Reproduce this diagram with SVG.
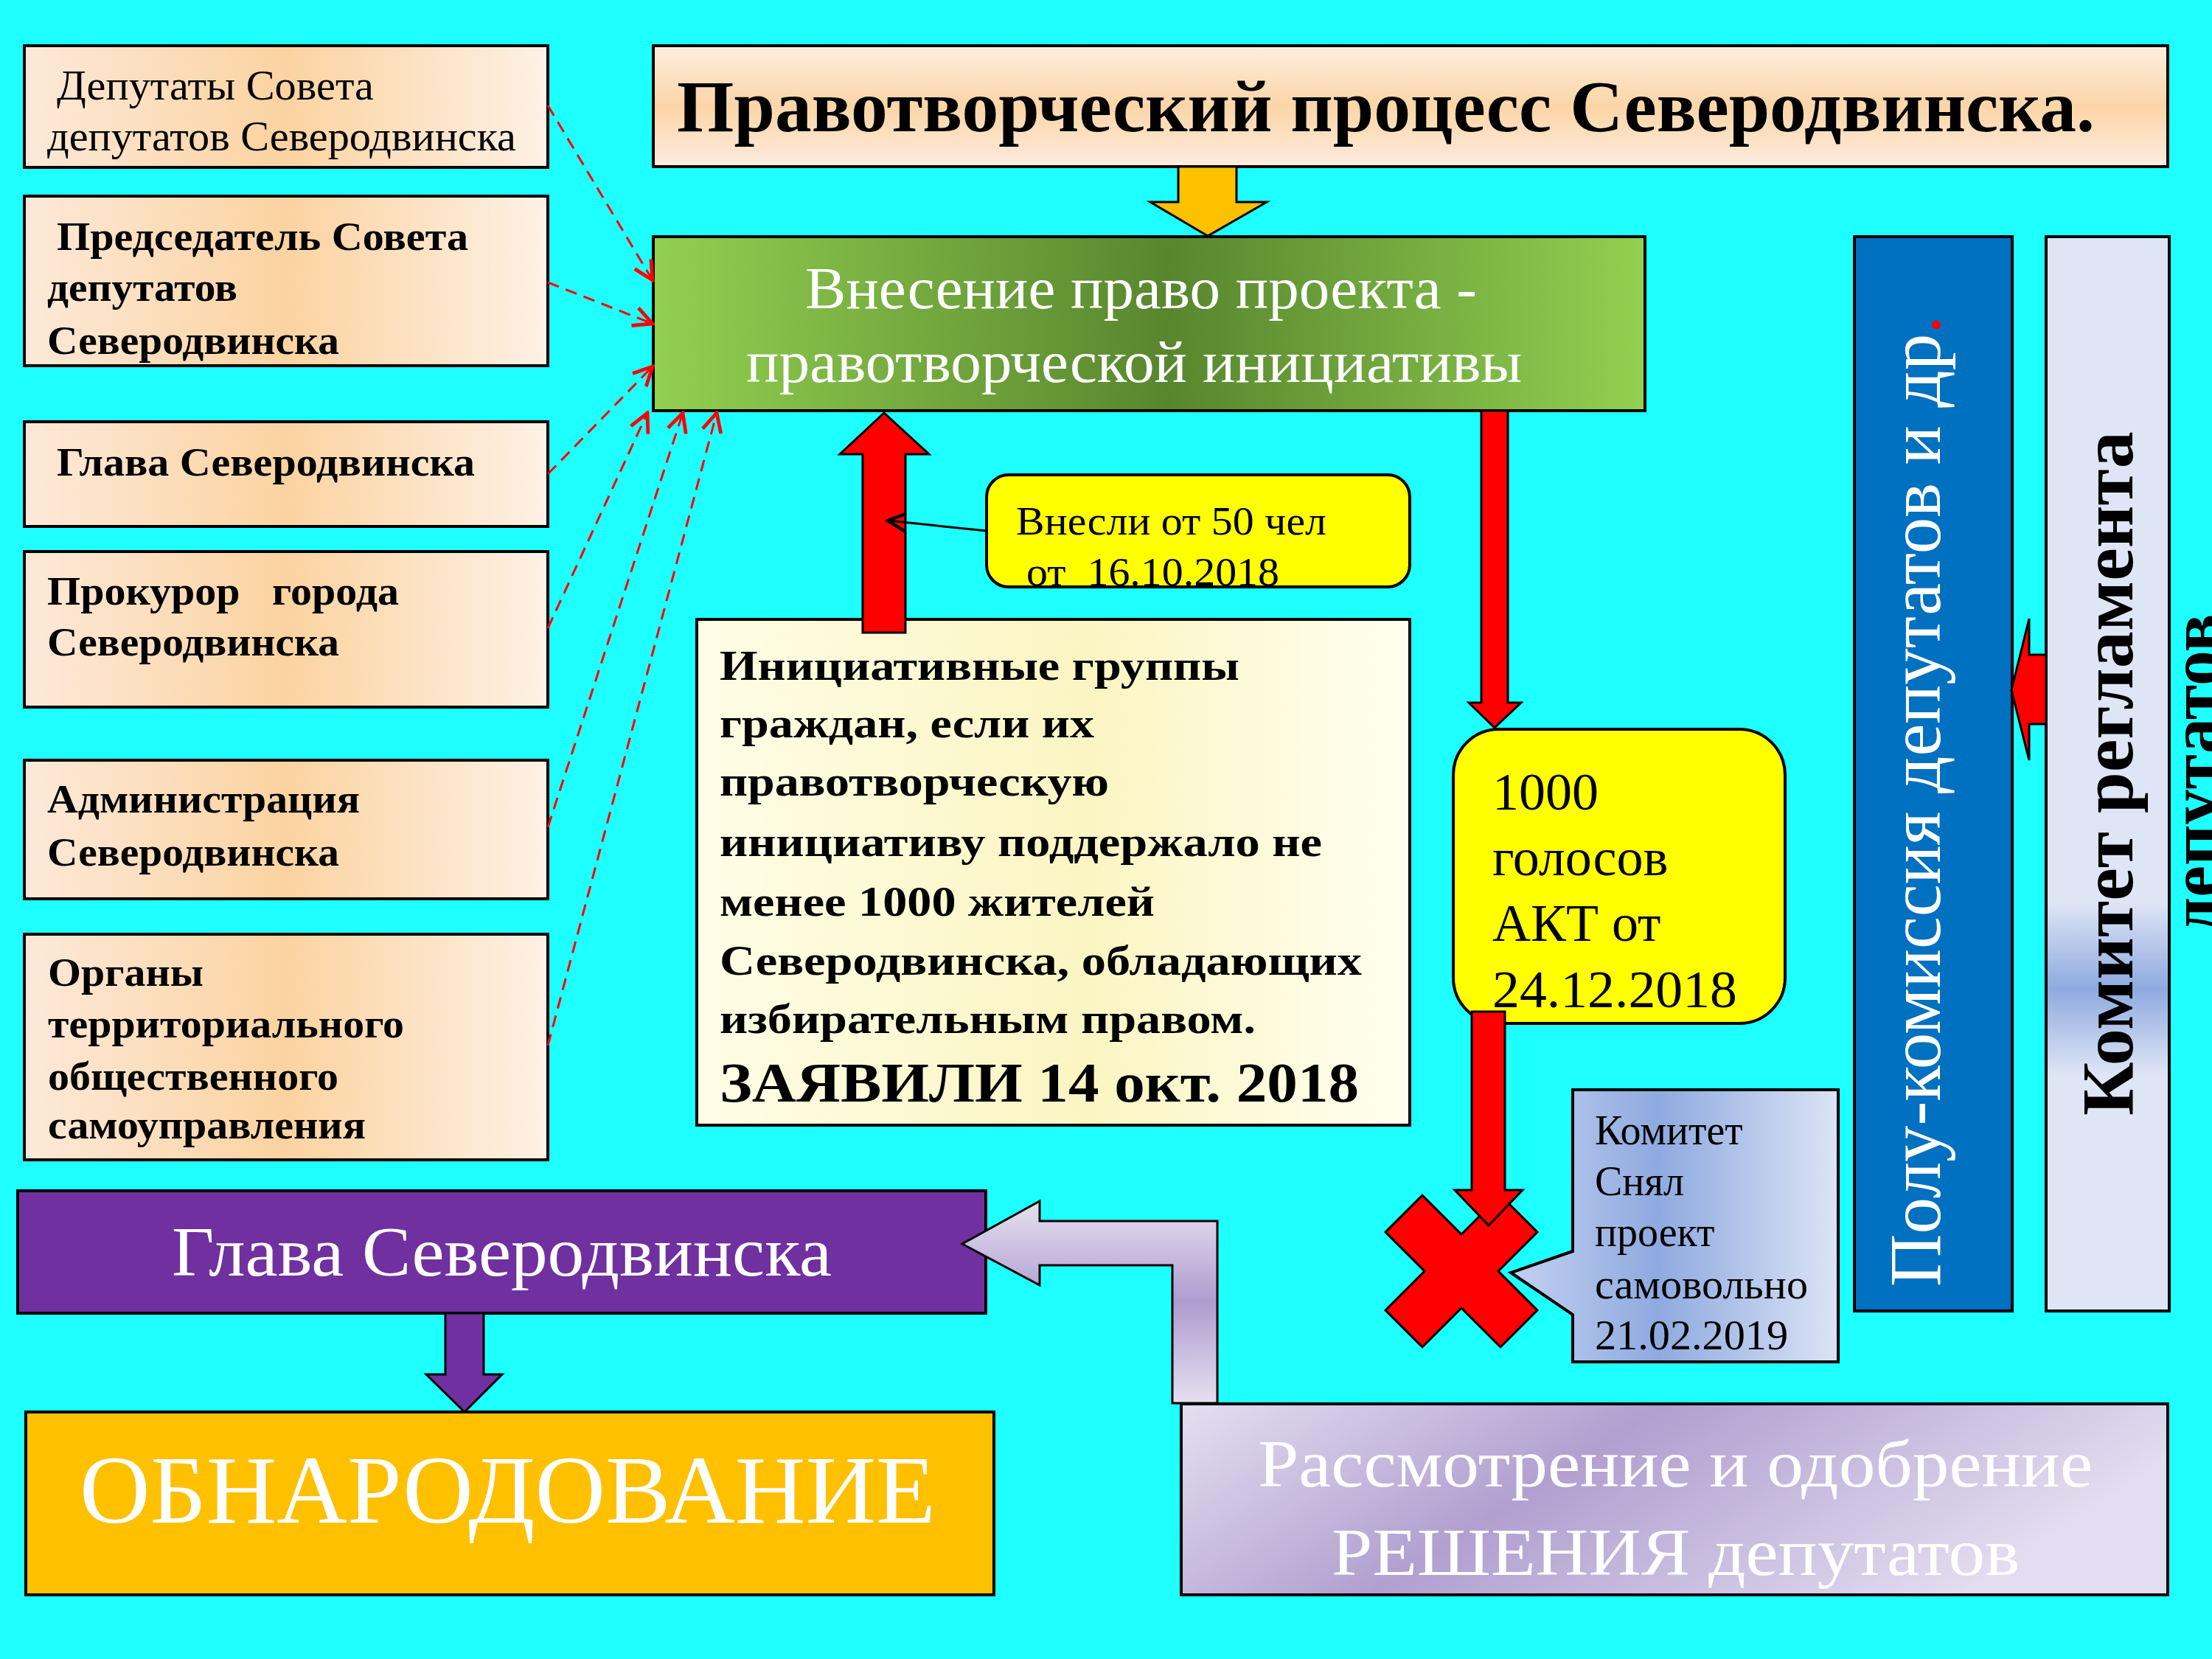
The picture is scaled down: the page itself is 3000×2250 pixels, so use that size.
<svg xmlns="http://www.w3.org/2000/svg" width="3000" height="2250" viewBox="0 0 3000 2250">
<style>
.bx{stroke:#000;stroke-width:4}
.t{font-family:"Liberation Serif","Times New Roman",serif}
.b{font-weight:bold}
.w{fill:#fff}
.k{fill:#000}
.pre{white-space:pre}
.arr{stroke:#000;stroke-width:3;stroke-linejoin:miter}
.dash{fill:none;stroke:#ff0000;stroke-width:3;stroke-dasharray:16 10}
</style>
<defs>
<linearGradient id="gPeach" x1="0" y1="0" x2="1" y2="0">
<stop offset="0" stop-color="#fde9d9"/><stop offset="0.5" stop-color="#fbd3a0"/><stop offset="1" stop-color="#fef1e6"/>
</linearGradient>
<linearGradient id="gTitle" x1="0" y1="0" x2="0" y2="1">
<stop offset="0" stop-color="#fdeee0"/><stop offset="0.5" stop-color="#fbd5a6"/><stop offset="1" stop-color="#fdece0"/>
</linearGradient>
<linearGradient id="gGreen" x1="0" y1="0" x2="1" y2="0">
<stop offset="0" stop-color="#92d050"/><stop offset="0.52" stop-color="#58862e"/><stop offset="1" stop-color="#92d050"/>
</linearGradient>
<linearGradient id="gCream" x1="0" y1="0" x2="1" y2="0">
<stop offset="0" stop-color="#fefde6"/><stop offset="0.55" stop-color="#fbf5c2"/><stop offset="1" stop-color="#fffff0"/>
</linearGradient>
<linearGradient id="gBlue" x1="0" y1="0" x2="1" y2="0">
<stop offset="0" stop-color="#c3d1f1"/><stop offset="0.45" stop-color="#8eaadf"/><stop offset="1" stop-color="#dbe4f5"/>
</linearGradient>
<linearGradient id="gReg" x1="0" y1="0" x2="0" y2="1">
<stop offset="0" stop-color="#dee5f5"/><stop offset="0.62" stop-color="#dee5f5"/><stop offset="0.70" stop-color="#8eaae0"/><stop offset="0.78" stop-color="#dee5f5"/><stop offset="1" stop-color="#dee5f5"/>
</linearGradient>
<linearGradient id="gLav" x1="0" y1="0" x2="1" y2="0.3">
<stop offset="0" stop-color="#e4dff1"/><stop offset="0.45" stop-color="#b19fd0"/><stop offset="1" stop-color="#e2ddf0"/>
</linearGradient>
<linearGradient id="gBent" x1="0" y1="0" x2="0" y2="1">
<stop offset="0" stop-color="#e6e0f0"/><stop offset="0.5" stop-color="#ae9ccf"/><stop offset="1" stop-color="#e6e0f0"/>
</linearGradient>
<marker id="ahR" viewBox="0 0 20 20" refX="18" refY="10" markerWidth="32" markerHeight="32" markerUnits="userSpaceOnUse" orient="auto">
<path d="M2,2 L18,10 L2,18" fill="none" stroke="#ff0000" stroke-width="3"/>
</marker>
<marker id="ahK" viewBox="0 0 20 20" refX="18" refY="10" markerWidth="30" markerHeight="30" markerUnits="userSpaceOnUse" orient="auto">
<path d="M2,2 L18,10 L2,18" fill="none" stroke="#000" stroke-width="3"/>
</marker>
</defs>

<rect width="3000" height="2250" fill="#1effff"/>

<g id="title">
<rect class="bx" x="886" y="62" width="2054" height="164" fill="url(#gTitle)"/>
<text class="t b k" x="918" y="178" font-size="100" textLength="1923" lengthAdjust="spacingAndGlyphs">Правотворческий процесс Северодвинска.</text>
</g>

<g id="src-deputies">
<rect class="bx" x="33" y="62" width="710" height="165" fill="url(#gPeach)"/>
<text class="t k" font-size="57"><tspan x="77" y="135" textLength="430" lengthAdjust="spacingAndGlyphs">Депутаты Совета</tspan><tspan x="64" y="204" textLength="636" lengthAdjust="spacingAndGlyphs">депутатов Северодвинска</tspan></text>
</g>

<g id="src-chairman">
<rect class="bx" x="33" y="266" width="710" height="230" fill="url(#gPeach)"/>
<text class="t b k" font-size="54"><tspan x="77" y="339" textLength="558" lengthAdjust="spacingAndGlyphs">Председатель Совета</tspan><tspan x="64" y="408" textLength="258" lengthAdjust="spacingAndGlyphs">депутатов</tspan><tspan x="64" y="480" textLength="396" lengthAdjust="spacingAndGlyphs">Северодвинска</tspan></text>
</g>

<g id="src-head">
<rect class="bx" x="33" y="572" width="710" height="142" fill="url(#gPeach)"/>
<text class="t b k" font-size="54" x="77" y="645" textLength="567" lengthAdjust="spacingAndGlyphs">Глава Северодвинска</text>
</g>

<g id="src-prosecutor">
<rect class="bx" x="33" y="748" width="710" height="211" fill="url(#gPeach)"/>
<text class="t b k pre" font-size="54"><tspan x="64" y="820" textLength="477" lengthAdjust="spacingAndGlyphs">Прокурор   города</tspan><tspan x="64" y="889" textLength="396" lengthAdjust="spacingAndGlyphs">Северодвинска</tspan></text>
</g>

<g id="src-admin">
<rect class="bx" x="33" y="1031" width="710" height="188" fill="url(#gPeach)"/>
<text class="t b k" font-size="54"><tspan x="64" y="1102" textLength="424" lengthAdjust="spacingAndGlyphs">Администрация</tspan><tspan x="64" y="1174" textLength="396" lengthAdjust="spacingAndGlyphs">Северодвинска</tspan></text>
</g>

<g id="src-tos">
<rect class="bx" x="33" y="1267" width="710" height="306" fill="url(#gPeach)"/>
<text class="t b k" font-size="54"><tspan x="65" y="1337" textLength="211" lengthAdjust="spacingAndGlyphs">Органы</tspan><tspan x="65" y="1407" textLength="483" lengthAdjust="spacingAndGlyphs">территориального</tspan><tspan x="65" y="1478" textLength="394" lengthAdjust="spacingAndGlyphs">общественного</tspan><tspan x="65" y="1544" textLength="431" lengthAdjust="spacingAndGlyphs">самоуправления</tspan></text>
</g>

<g id="initiative">
<rect class="bx" x="886" y="321" width="1345" height="236" fill="url(#gGreen)"/>
<text class="t w" font-size="80"><tspan x="1092" y="418" textLength="911" lengthAdjust="spacingAndGlyphs">Внесение право проекта -</tspan><tspan x="1012" y="518" textLength="1052" lengthAdjust="spacingAndGlyphs">правотворческой инициативы</tspan></text>
</g>

<g id="citizens">
<rect class="bx" x="945" y="840" width="967" height="686" fill="url(#gCream)"/>
<text class="t b k" font-size="57"><tspan x="976" y="922" textLength="705" lengthAdjust="spacingAndGlyphs">Инициативные группы</tspan><tspan x="976" y="1000" textLength="508" lengthAdjust="spacingAndGlyphs">граждан, если их</tspan><tspan x="976" y="1079" textLength="528" lengthAdjust="spacingAndGlyphs">правотворческую</tspan><tspan x="976" y="1161" textLength="817" lengthAdjust="spacingAndGlyphs">инициативу поддержало не</tspan><tspan x="976" y="1242" textLength="590" lengthAdjust="spacingAndGlyphs">менее 1000 жителей</tspan><tspan x="976" y="1322" textLength="871" lengthAdjust="spacingAndGlyphs">Северодвинска, обладающих</tspan><tspan x="976" y="1401" textLength="727" lengthAdjust="spacingAndGlyphs">избирательным правом.</tspan><tspan x="976" y="1494" font-size="76" textLength="867" lengthAdjust="spacingAndGlyphs">ЗАЯВИЛИ 14 окт. 2018</tspan></text>
</g>

<g id="note50">
<rect class="bx" x="1338" y="644" width="574" height="152" rx="30" fill="#ffff00"/>
<text class="t k pre" font-size="55"><tspan x="1378" y="725" textLength="421" lengthAdjust="spacingAndGlyphs">Внесли от 50 чел</tspan><tspan x="1392" y="794" textLength="343" lengthAdjust="spacingAndGlyphs">от  16.10.2018</tspan></text>
</g>

<g id="votes">
<rect class="bx" x="1971" y="989" width="450" height="399" rx="62" fill="#ffff00"/>
<text class="t k" font-size="72"><tspan x="2024" y="1098">1000</tspan><tspan x="2024" y="1187">голосов</tspan><tspan x="2024" y="1276">АКТ от</tspan><tspan x="2024" y="1366" textLength="332" lengthAdjust="spacingAndGlyphs">24.12.2018</tspan></text>
</g>

<g id="reject-mark">
<polygon class="arr" fill="#ff0000" points="1982,1674 2035,1621 2085,1671 2032,1724 2085,1777 2035,1827 1982,1774 1929,1827 1879,1777 1932,1724 1879,1671 1929,1621"/>
</g>

<g id="committee-note">
<path class="bx" fill="url(#gBlue)" d="M2133,1478 H2493 V1847 H2133 V1783 L2049,1726 L2133,1697 Z"/>
<text class="t k" font-size="56"><tspan x="2163" y="1552">Комитет</tspan><tspan x="2163" y="1621">Снял</tspan><tspan x="2163" y="1690">проект</tspan><tspan x="2163" y="1761" textLength="289" lengthAdjust="spacingAndGlyphs">самовольно</tspan><tspan x="2163" y="1830" textLength="262" lengthAdjust="spacingAndGlyphs">21.02.2019</tspan></text>
</g>

<g id="commissions">
<rect class="bx" x="2515" y="321" width="214" height="1457" fill="#0070c0"/>
<text class="t w" font-size="100" x="2631" y="1745" transform="rotate(-90 2631 1745)" textLength="1317" lengthAdjust="spacingAndGlyphs">Полу-комиссия депутатов и др<tspan fill="#ff0000">.</tspan></text>
</g>

<g id="reg-committee">
<rect class="bx" x="2775" y="321" width="167" height="1457" fill="url(#gReg)"/>
<text class="t b k" font-size="100" text-anchor="middle" transform="rotate(-90 2892 1049)"><tspan x="2892" y="1049" textLength="928" lengthAdjust="spacingAndGlyphs">Комитет регламента</tspan><tspan x="2892" y="1168" textLength="433" lengthAdjust="spacingAndGlyphs">депутатов</tspan></text>
</g>

<g id="head-final">
<rect class="bx" x="24" y="1615" width="1313" height="166" fill="#7030a0"/>
<text class="t w" font-size="96" x="233" y="1730" textLength="895" lengthAdjust="spacingAndGlyphs">Глава Северодвинска</text>
</g>

<g id="publication">
<rect class="bx" x="35" y="1915" width="1313" height="248" fill="#ffc000"/>
<text class="t w" font-size="132" x="108" y="2065" textLength="1161" lengthAdjust="spacingAndGlyphs">ОБНАРОДОВАНИЕ</text>
</g>

<g id="approval">
<rect class="bx" x="1602" y="1904" width="1338" height="259" fill="url(#gLav)"/>
<text class="t w" font-size="90"><tspan x="1706" y="2016" textLength="1132" lengthAdjust="spacingAndGlyphs">Рассмотрение и одобрение</tspan><tspan x="1806" y="2136" textLength="933" lengthAdjust="spacingAndGlyphs">РЕШЕНИЯ депутатов</tspan></text>
</g>

<g id="connectors">
<polygon class="arr" fill="#ffc000" points="1598,226 1677,226 1677,274 1718,274 1638,320 1560,274 1598,274"/>
<polygon class="arr" fill="#ff0000" points="1170,858 1228,858 1228,616 1260,616 1199,560 1139,616 1170,616"/>
<polygon class="arr" fill="#ff0000" points="2009,557 2045,557 2045,953 2063,953 2027,987 1992,953 2009,953"/>
<polygon class="arr" fill="#ff0000" points="1996,1372 2041,1372 2041,1614 2065,1614 2019,1662 1973,1614 1996,1614"/>
<polygon class="arr" fill="#ff0000" points="2775,888 2752,888 2752,839 2728,936 2752,1031 2752,982 2775,982"/>
<polygon class="arr" fill="#7030a0" points="604,1781 656,1781 656,1864 681,1864 630,1915 578,1864 604,1864"/>
<polygon class="arr" fill="url(#gBent)" points="1590,1903 1590,1716 1410,1716 1410,1743 1305,1687 1410,1629 1410,1656 1651,1656 1651,1903"/>
<line x1="1338" y1="720" x2="1204" y2="706" stroke="#000" stroke-width="3" marker-end="url(#ahK)"/>
<line class="dash" x1="743" y1="143" x2="885" y2="380" marker-end="url(#ahR)"/>
<line class="dash" x1="743" y1="383" x2="885" y2="439" marker-end="url(#ahR)"/>
<line class="dash" x1="743" y1="643" x2="885" y2="497" marker-end="url(#ahR)"/>
<line class="dash" x1="743" y1="852" x2="878" y2="560" marker-end="url(#ahR)"/>
<line class="dash" x1="743" y1="1122" x2="926" y2="560" marker-end="url(#ahR)"/>
<line class="dash" x1="743" y1="1418" x2="972" y2="560" marker-end="url(#ahR)"/>
</g>
</svg>
